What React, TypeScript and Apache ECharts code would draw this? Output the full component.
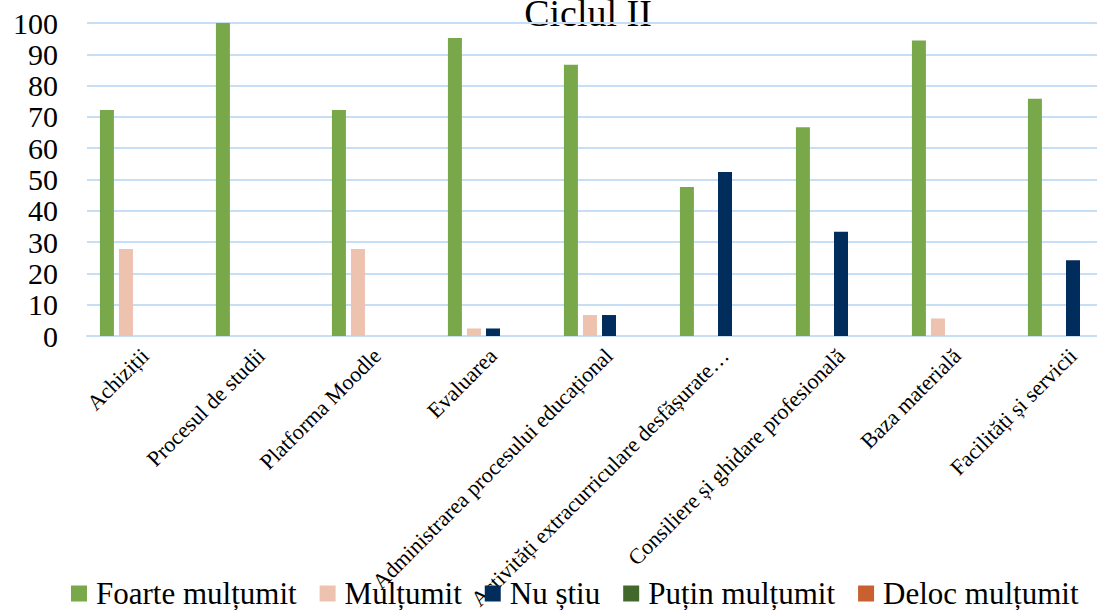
import React, { useEffect, useRef } from "react";
import * as echarts from "echarts";

const titleText = "Ciclul II";
const categories = [
  "Achiziții",
  "Procesul de studii",
  "Platforma Moodle",
  "Evaluarea",
  "Administrarea procesului educațional",
  "Activități extracurriculare desfășurate…",
  "Consiliere și ghidare profesională",
  "Baza materială",
  "Facilități și servicii",
];
const seriesNames = ["Foarte mulțumit", "Mulțumit", "Nu știu", "Puțin mulțumit", "Deloc mulțumit"];
const foarteMultumit = [72.2, 100, 72.2, 95.2, 86.7, 47.6, 66.7, 94.4, 75.8];
const multumit = [27.8, 0, 27.8, 2.4, 6.7, 0, 0, 5.6, 0];
const nuStiu = [0, 0, 0, 2.4, 6.7, 52.4, 33.3, 0, 24.2];
const putinMultumit = [0, 0, 0, 0, 0, 0, 0, 0, 0];
const delocMultumit = [0, 0, 0, 0, 0, 0, 0, 0, 0];
const yMin = 0;
const yMax = 100;
const yInterval = 10;

const colors = ["#79A84B", "#EDC2AF", "#002D5C", "#43682B", "#C8602F"];
const FONT = "'Liberation Serif', 'Times New Roman', serif";

export default function App() {
  const ref = useRef<HTMLDivElement>(null);
  useEffect(() => {
    document.body.style.margin = "0";
    if (!ref.current) return;
    const chart = echarts.init(ref.current, null, { renderer: "svg" });
    const data = [foarteMultumit, multumit, nuStiu, putinMultumit, delocMultumit];
    chart.setOption({
      animation: false,
      backgroundColor: "#ffffff",
      graphic: [
        {
          type: "text",
          x: 588,
          y: 32,
          style: {
            text: titleText,
            fill: "#000",
            fontSize: 38,
            fontFamily: FONT,
            align: "center",
            verticalAlign: "bottom",
          },
        },
      ],
      legend: {
        left: 71,
        top: 578,
        padding: 0,
        itemWidth: 16,
        itemHeight: 16,
        itemGap: 23,
        icon: "rect",
        textStyle: { fontSize: 31, fontFamily: FONT, color: "#000", padding: [0, 0, 0, 4] },
        data: seriesNames,
      },
      grid: {
        left: 87,
        top: 23,
        width: 1044,
        height: 313,
        containLabel: false,
        outerBoundsMode: "none",
      },
      xAxis: {
        type: "category",
        data: categories,
        axisLine: { show: true, lineStyle: { color: "#C6DFF6", width: 2 } },
        axisTick: { show: false },
        axisLabel: {
          rotate: 45,
          interval: 0,
          margin: 16,
          fontSize: 22,
          fontFamily: FONT,
          color: "#000",
        },
      },
      yAxis: {
        type: "value",
        min: yMin,
        max: yMax,
        interval: yInterval,
        axisLine: { show: false },
        axisTick: { show: false },
        splitLine: { lineStyle: { color: "#C6DFF6", width: 2 } },
        axisLabel: { fontSize: 30, fontFamily: FONT, color: "#000", margin: 29 },
      },
      series: seriesNames.map((name, i) => ({
        name,
        type: "bar",
        data: data[i],
        barWidth: 14,
        barGap: "36%",
        itemStyle: { color: colors[i] },
      })),
    });
    return () => chart.dispose();
  }, []);
  return <div ref={ref} style={{ width: 1097, height: 610, overflow: "hidden" }} />;
}
